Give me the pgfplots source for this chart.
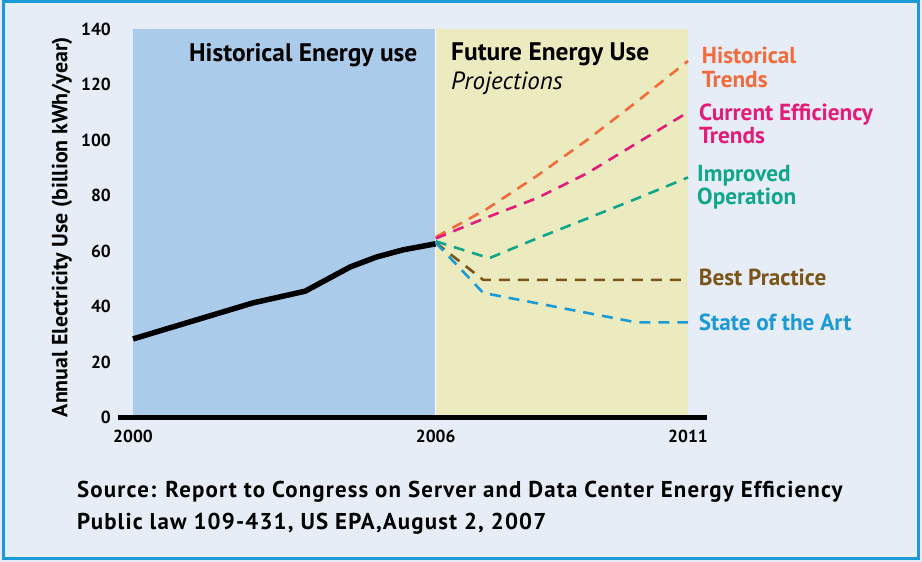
\documentclass[border=0pt]{standalone}
\usepackage{pgfplots}
\pgfplotsset{compat=1.18}
\usepackage{fontspec}
\setmainfont{PT Sans}
\newfontfamily\footfont[LetterSpace=5]{PT Sans}
\definecolor{bgc}{HTML}{E7EDF7}
\definecolor{borderc}{HTML}{1A9AD7}
\definecolor{bluereg}{HTML}{ABCBEA}
\definecolor{yelreg}{HTML}{EBEBBF}
\definecolor{corange}{HTML}{F26B3D}
\definecolor{cpink}{HTML}{E31C79}
\definecolor{cteal}{HTML}{0FA68A}
\definecolor{cbrown}{HTML}{7A5418}
\definecolor{cblue}{HTML}{1B9AD6}
\newcommand{\fs}[1]{\fontsize{#1}{#1}\selectfont}
\begin{document}
\begin{tikzpicture}[x=1bp,y=1bp]
\fill[bgc] (0,0) rectangle (922,562);
\draw[borderc, line width=3bp] (3.5,3) rectangle (918.5,560.5);
\begin{axis}[
  at={(133bp,144.5bp)}, anchor=south west,
  scale only axis, width=555bp, height=388.5bp,
  xmin=2000, xmax=2011, ymin=0, ymax=140,
  axis line style={draw=none},
  major tick length=0pt,
  xtick={2000,2006,2011}, xticklabels={2000,2006,2011},
  ytick={0,20,40,60,80,100,120,140},
  yticklabels={0,20,40,60,80,100,120,140},
  xticklabel style={font=\fs{17.5}\bfseries, inner sep=0pt, anchor=north, yshift=-12bp},
  yticklabel style={font=\fs{17.5}\bfseries, inner sep=0pt, anchor=east, xshift=-22bp},
  ylabel={Annual Electricity Use (billion kWh/year)},
  ylabel style={font=\fs{22}\bfseries, at={(axis description cs:-0.128,0.49)}, anchor=center},
  clip=false,
]
\fill[bluereg] (axis cs:2000,0) rectangle (axis cs:2006,140);
\fill[yelreg] (axis cs:2006,0) rectangle (axis cs:2011,140);
\draw[white, line width=1bp] (axis cs:2006,0) -- (axis cs:2006,140);
\draw[black, line width=5.7bp] (axis cs:1999.7,0) -- (axis cs:2011.37,0);

\addplot[black, line width=5.5bp, line join=round] coordinates {
 (2000,28.3) (2002.38,41.3) (2003.41,45.5) (2004.3,54.2) (2004.82,57.8) (2005.35,60.4) (2006,62.6)};

\addplot[corange, line width=2.6bp, dash pattern=on 11bp off 8bp, line join=round] coordinates {
 (2006,65) (2007,75) (2008,87) (2009,100) (2010,114) (2011,128.5)};
\addplot[cpink, line width=2.6bp, dash pattern=on 11bp off 8bp, line join=round] coordinates {
 (2006,64.5) (2007,72) (2008,79) (2009,88) (2010,99) (2011,110)};
\addplot[cteal, line width=2.6bp, dash pattern=on 11bp off 8bp, line join=round] coordinates {
 (2006,63.5) (2007.06,57.4) (2008,64.5) (2009,71.7) (2010,79) (2011,86.5)};
\addplot[cbrown, line width=2.6bp, dash pattern=on 11bp off 8bp, line join=round] coordinates {
 (2006,63) (2006.94,49.6) (2011,49.6)};
\addplot[cblue, line width=2.6bp, dash pattern=on 11bp off 8bp, line join=round] coordinates {
 (2006,63) (2006.94,44.9) (2009.97,34.3) (2011,34.3)};
\end{axis}

\node[anchor=base west, inner sep=0pt, font=\fs{25.5}\bfseries] at (189,500.3) {Historical Energy use};
\node[anchor=base west, inner sep=0pt, font=\fs{25.5}\bfseries] at (451,501.3) {Future Energy Use};
\node[anchor=base west, inner sep=0pt, font=\fs{25}\itshape] at (451,472) {Projections};

\begin{scope}[every node/.style={anchor=base west, inner sep=0pt, font=\fs{23.3}\bfseries}]
\node[text=corange] at (701.7,498) {Historical};
\node[text=corange] at (701.7,474.7) {Trends};
\node[text=cpink] at (699,441.3) {Current Efficiency};
\node[text=cpink] at (699,418) {Trends};
\node[text=cteal] at (697,380.3) {Improved};
\node[text=cteal] at (697,357.7) {Operation};
\node[text=cbrown] at (698.7,276) {Best Practice};
\node[text=cblue] at (698.7,231.3) {State of the Art};
\end{scope}

\node[anchor=base west, inner sep=0pt, font=\footfont\fs{23}\bfseries] at (77,64) {Source: Report to Congress on Server and Data Center Energy Efficiency};
\node[anchor=base west, inner sep=0pt, font=\footfont\fs{23}\bfseries] at (77,32) {Public law 109-431, US EPA,August 2, 2007};
\end{tikzpicture}
\end{document}
